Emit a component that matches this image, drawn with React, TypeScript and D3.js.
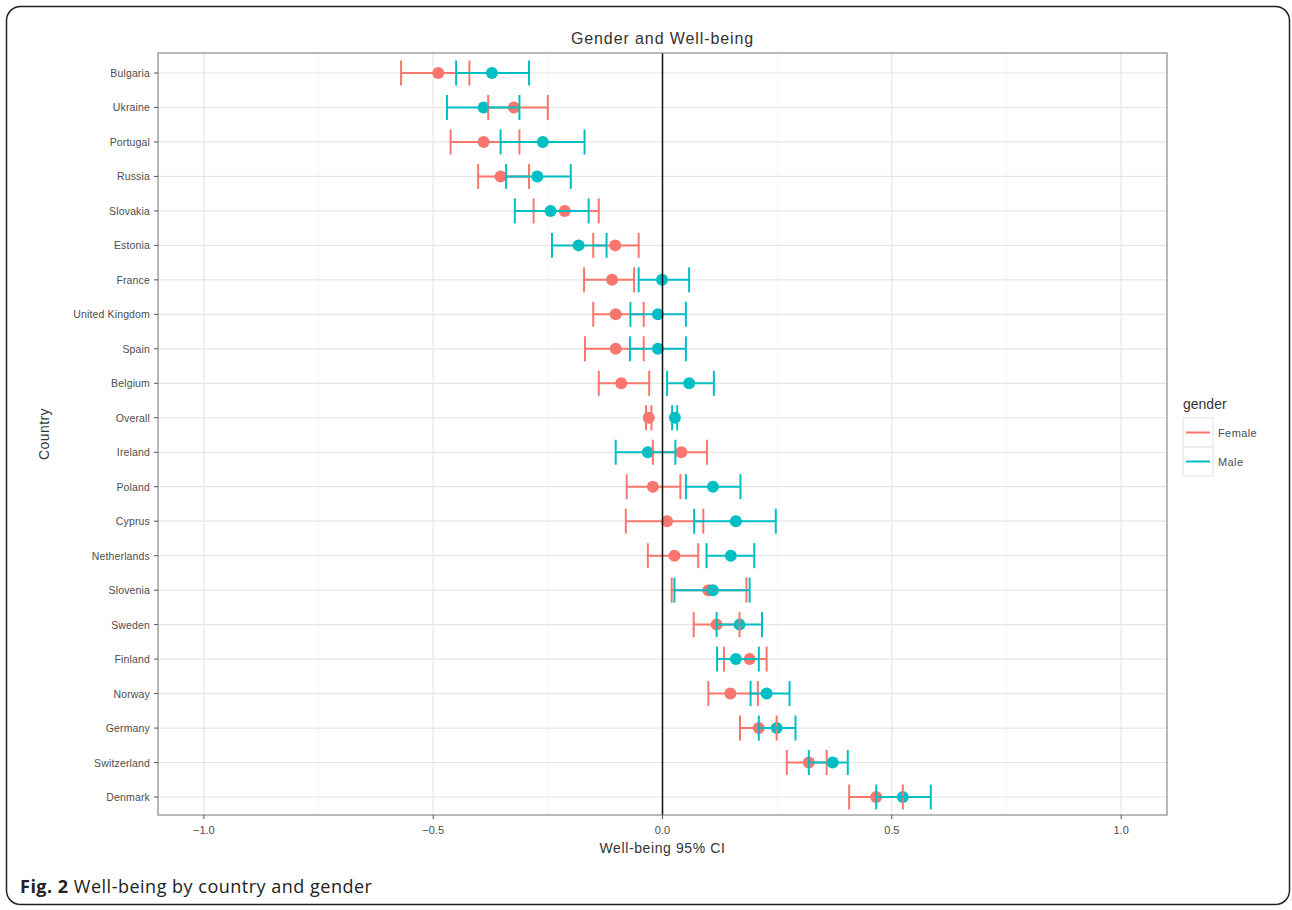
import React from "react";
import * as d3 from "d3";

const countries = [
  "Bulgaria", "Ukraine", "Portugal", "Russia", "Slovakia", "Estonia", "France",
  "United Kingdom", "Spain", "Belgium", "Overall", "Ireland", "Poland", "Cyprus",
  "Netherlands", "Slovenia", "Sweden", "Finland", "Norway", "Germany", "Switzerland", "Denmark",
];
const femaleMean = [-0.489, -0.324, -0.390, -0.353, -0.213, -0.103, -0.110, -0.102, -0.102, -0.090, -0.030, 0.041, -0.021, 0.010, 0.026, 0.100, 0.118, 0.190, 0.148, 0.210, 0.319, 0.466];
const femaleLo = [-0.570, -0.380, -0.462, -0.402, -0.281, -0.151, -0.171, -0.151, -0.169, -0.139, -0.036, -0.021, -0.078, -0.080, -0.032, 0.020, 0.068, 0.134, 0.100, 0.169, 0.271, 0.407];
const femaleHi = [-0.421, -0.250, -0.312, -0.291, -0.139, -0.052, -0.062, -0.041, -0.041, -0.029, -0.024, 0.097, 0.039, 0.089, 0.078, 0.183, 0.168, 0.227, 0.208, 0.249, 0.358, 0.524];
const maleMean = [-0.372, -0.390, -0.261, -0.273, -0.244, -0.183, -0.001, -0.010, -0.010, 0.058, 0.027, -0.032, 0.110, 0.160, 0.149, 0.110, 0.168, 0.160, 0.227, 0.249, 0.371, 0.524];
const maleLo = [-0.450, -0.470, -0.353, -0.341, -0.322, -0.241, -0.052, -0.070, -0.071, 0.010, 0.021, -0.102, 0.051, 0.069, 0.096, 0.026, 0.118, 0.119, 0.192, 0.210, 0.319, 0.466];
const maleHi = [-0.291, -0.312, -0.170, -0.200, -0.161, -0.122, 0.058, 0.051, 0.051, 0.112, 0.032, 0.028, 0.170, 0.247, 0.200, 0.190, 0.217, 0.210, 0.277, 0.290, 0.404, 0.585];
const xTicks = [-1.0, -0.5, 0.0, 0.5, 1.0];
const xMinor = [-0.75, -0.25, 0.25, 0.75];
const genders = ["Female", "Male"];
const genderColors = ["#F8766D", "#00BFC4"];

const FONT = "'Liberation Sans', Arial, Helvetica, sans-serif";

export default function App() {
  const left = 158, right = 1167, top = 53, bottom = 815;
  const x = d3.scaleLinear().domain([-1.1, 1.1]).range([left, right]);
  const y = d3.scalePoint<string>().domain(countries).range([73, 797]);
  const series = [
    { name: genders[0], color: genderColors[0], mean: femaleMean, lo: femaleLo, hi: femaleHi },
    { name: genders[1], color: genderColors[1], mean: maleMean, lo: maleLo, hi: maleHi },
  ];
  const capH = 12.5;
  return (
    <svg width={1292} height={910} style={{ position: "absolute", left: 0, top: 0, background: "#fff" }}>
      <rect x={6.5} y={6.5} width={1283} height={898} rx={14} fill="#fff" stroke="#222" strokeWidth={1.5} />
      {/* title */}
      <text x={(left + right) / 2} y={44} textAnchor="middle" fontFamily={FONT} fontSize={16} fill="#333" letterSpacing={0.9}>Gender and Well-being</text>
      {/* panel */}
      <rect x={left} y={top} width={right - left} height={bottom - top} fill="#fff" />
      {xMinor.map((v) => (
        <line key={"mn" + v} x1={x(v)} x2={x(v)} y1={top} y2={bottom} stroke="#f4f4f4" strokeWidth={0.8} />
      ))}
      {xTicks.map((v) => (
        <line key={"mj" + v} x1={x(v)} x2={x(v)} y1={top} y2={bottom} stroke="#e6e6e6" strokeWidth={1.2} />
      ))}
      {countries.map((c) => (
        <line key={"hg" + c} x1={left} x2={right} y1={y(c)} y2={y(c)} stroke="#e6e6e6" strokeWidth={1.2} />
      ))}
      {/* points */}
      {series.map((s) => (
        <g key={"pt" + s.name}>
          {countries.map((c, i) => (
            <circle key={c} cx={x(s.mean[i])} cy={y(c)} r={6} fill={s.color} />
          ))}
        </g>
      ))}
      {/* error bars */}
      {series.map((s) => (
        <g key={"eb" + s.name} stroke={s.color} strokeWidth={2} fill="none">
          {countries.map((c, i) => {
            const yy = y(c) as number;
            return (
              <g key={c}>
                <line x1={x(s.lo[i])} x2={x(s.hi[i])} y1={yy} y2={yy} />
                <line x1={x(s.lo[i])} x2={x(s.lo[i])} y1={yy - capH} y2={yy + capH} />
                <line x1={x(s.hi[i])} x2={x(s.hi[i])} y1={yy - capH} y2={yy + capH} />
              </g>
            );
          })}
        </g>
      ))}
      {/* zero line */}
      <line x1={x(0)} x2={x(0)} y1={top} y2={bottom} stroke="#111" strokeWidth={1.5} />
      <rect x={left} y={top} width={right - left} height={bottom - top} fill="none" stroke="#8a8a8a" strokeWidth={1.2} />
      {/* y axis */}
      {countries.map((c) => (
        <g key={"yt" + c}>
          <line x1={left - 4} x2={left} y1={y(c)} y2={y(c)} stroke="#555" strokeWidth={1} />
          <text x={left - 8} y={(y(c) as number) + 4} textAnchor="end" fontFamily={FONT} fontSize={10.5} fill="#4d4d4d" letterSpacing={0.15}>{c}</text>
        </g>
      ))}
      {/* x axis */}
      {xTicks.map((v) => (
        <g key={"xt" + v}>
          <line x1={x(v)} x2={x(v)} y1={bottom} y2={bottom + 4} stroke="#555" strokeWidth={1} />
          <text x={x(v)} y={bottom + 19} textAnchor="middle" fontFamily={FONT} fontSize={11} fill="#4d4d4d">{d3.format(".1f")(v)}</text>
        </g>
      ))}
      <text x={(left + right) / 2} y={853} textAnchor="middle" fontFamily={FONT} fontSize={14} fill="#333" letterSpacing={0.6}>Well-being 95% CI</text>
      <text transform={`translate(49,${(top + bottom) / 2}) rotate(-90)`} textAnchor="middle" fontFamily={FONT} fontSize={14} fill="#333" letterSpacing={0.4}>Country</text>
      {/* legend */}
      <text x={1183} y={409} fontFamily={FONT} fontSize={14} fill="#333">gender</text>
      {series.map((s, i) => (
        <g key={"lg" + s.name}>
          <rect x={1183} y={418 + i * 29} width={30} height={29} fill="#fff" stroke="#e0e0e0" strokeWidth={1} />
          <line x1={1186} x2={1210} y1={432.5 + i * 29} y2={432.5 + i * 29} stroke={s.color} strokeWidth={2} />
          <text x={1218} y={437 + i * 29} fontFamily={FONT} fontSize={11} fill="#4d4d4d" letterSpacing={0.4}>{s.name}</text>
        </g>
      ))}
      {/* caption */}
      <text x={20} y={893} fontFamily="'Open Sans', 'Noto Sans', sans-serif" fontSize={18} fill="#222" letterSpacing={0.5}>
        <tspan fontWeight="bold">Fig. 2</tspan>
        <tspan> Well-being by country and gender</tspan>
      </text>
    </svg>
  );
}
